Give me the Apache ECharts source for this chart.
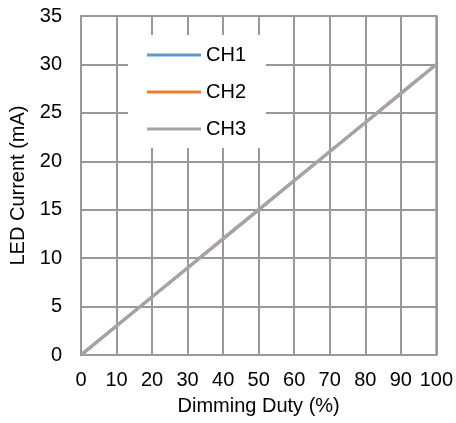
<!DOCTYPE html>
<html>
<head>
<meta charset="utf-8">
<script src="https://cdn.jsdelivr.net/npm/echarts@6/dist/echarts.min.js"></script>
<style>html,body{margin:0;padding:0;background:#fff}#c{width:456px;height:423px}</style>
</head>
<body>
<div id="c"></div>
<script>
const duty = [0, 10, 20, 30, 40, 50, 60, 70, 80, 90, 100];
const ch1 = [0, 3, 6, 9, 12, 15, 18, 21, 24, 27, 30];
const ch2 = [0, 3, 6, 9, 12, 15, 18, 21, 24, 27, 30];
const ch3 = [0, 3, 6, 9, 12, 15, 18, 21, 24, 27, 30];
const seriesNames = ['CH1', 'CH2', 'CH3'];
const colors = ['#5B9BD5', '#ED7D31', '#A5A5A5'];

const chart = echarts.init(document.getElementById('c'));
const font = 'Liberation Sans, Arial, sans-serif';
const gridColor = '#999999';
const mk = (name, vals, i) => ({
  name: name, type: 'line', showSymbol: false, symbol: 'none',
  data: duty.map((d, k) => [d, vals[k]]),
  lineStyle: {color: colors[i], width: 3}, itemStyle: {color: colors[i]},
  z: 2 + i, animation: false
});
chart.setOption({
  animation: false,
  grid: {left: 81, top: 16, right: 19, bottom: 68, show: true, borderColor: gridColor, borderWidth: 2},
  legend: {
    orient: 'vertical', left: 128, top: 35,
    backgroundColor: '#fff', padding: [10, 20, 9, 19], itemGap: 17,
    itemWidth: 54, itemHeight: 3, icon: 'rect',
    textStyle: {fontFamily: font, fontSize: 20, color: '#000'},
    data: seriesNames
  },
  xAxis: {
    type: 'value', min: 0, max: 100, interval: 10,
    name: 'Dimming Duty (%)', nameLocation: 'middle', nameGap: 41,
    nameTextStyle: {fontFamily: font, fontSize: 20, color: '#000'},
    axisLine: {show: true, lineStyle: {color: gridColor, width: 2}},
    axisTick: {show: false},
    axisLabel: {fontFamily: font, fontSize: 20, color: '#000', margin: 15},
    splitLine: {show: true, lineStyle: {color: gridColor, width: 2}}
  },
  yAxis: {
    type: 'value', min: 0, max: 35, interval: 5,
    name: 'LED Current (mA)', nameLocation: 'middle', nameGap: 47, nameRotate: 90,
    nameTextStyle: {fontFamily: font, fontSize: 20, color: '#000'},
    axisLine: {show: true, lineStyle: {color: gridColor, width: 2}},
    axisTick: {show: false},
    axisLabel: {fontFamily: font, fontSize: 20, color: '#000', margin: 19},
    splitLine: {show: true, lineStyle: {color: gridColor, width: 2}}
  },
  series: [mk('CH1', ch1, 0), mk('CH2', ch2, 1), mk('CH3', ch3, 2)]
});
</script>
</body>
</html>
